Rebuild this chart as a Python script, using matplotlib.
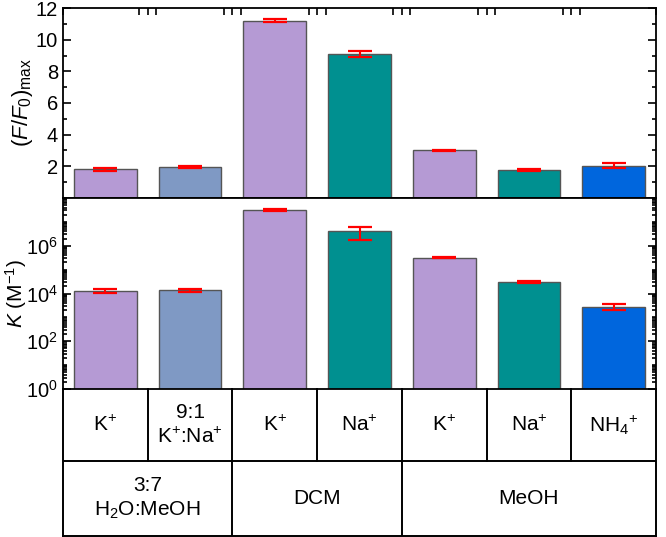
import numpy as np
import matplotlib
matplotlib.use("Agg")
import matplotlib.pyplot as plt
from matplotlib.ticker import LogLocator, NullFormatter, MultipleLocator, FixedLocator

plt.rcParams['font.family'] = ['Liberation Sans', 'DejaVu Sans']
plt.rcParams['mathtext.fontset'] = 'custom'
plt.rcParams['mathtext.rm'] = 'Liberation Sans'
plt.rcParams['mathtext.it'] = 'Liberation Sans:italic'

# --------------------
# Data
# --------------------
ions = ['K$^{+}$', '9:1\nK$^{+}$:Na$^{+}$', 'K$^{+}$', 'Na$^{+}$', 'K$^{+}$', 'Na$^{+}$', 'NH$_4$$^{+}$']
solvents = ['3:7\nH$_2$O:MeOH', 'DCM', 'MeOH']
solvent_span = [2, 2, 3]

f_ratio = [1.8, 1.95, 11.2, 9.1, 3.0, 1.78, 2.05]
f_err = [0.08, 0.08, 0.08, 0.2, 0.05, 0.05, 0.18]

k_val = [1.33e4, 1.4e4, 3.2e7, 4.1e6, 3.2e5, 3.0e4, 2.7e3]
k_err_lo = [0.25e4, 0.2e4, 0.4e7, 2.3e6, 0.2e5, 0.2e4, 0.6e3]
k_err_hi = [0.25e4, 0.2e4, 0.4e7, 2.2e6, 0.2e5, 0.2e4, 0.8e3]

lav = '#B59AD4'
steel = '#7F99C4'
teal = '#009090'
blue = '#0066DD'
colors = [lav, steel, lav, teal, lav, teal, blue]

x = np.arange(len(ions))
W, H = 666, 537
fig = plt.figure(figsize=(W / 100, H / 100), dpi=100)

def pos(l, t, r, b):
    return [l / W, 1 - b / H, (r - l) / W, (b - t) / H]

ax1 = fig.add_axes(pos(63, 8, 656, 198))
ax2 = fig.add_axes(pos(63, 198, 656, 389))
ax3 = fig.add_axes(pos(63, 389, 656, 536))

bar_kw = dict(width=0.74, edgecolor='#555555', linewidth=1.0, zorder=2)
err_kw = dict(ecolor='red', elinewidth=1.5, capsize=8.5, capthick=1.6)

ax1.bar(x, f_ratio, color=colors, yerr=f_err, error_kw=err_kw, **bar_kw)
ax1.set_xlim(-0.5, 6.5)
ax1.set_ylim(0, 12)
ax1.yaxis.set_major_locator(FixedLocator([2, 4, 6, 8, 10, 12]))
ax1.yaxis.set_minor_locator(MultipleLocator(1))
ax1.set_ylabel(r'$(\mathit{F/F_0})_{\mathrm{max}}$', fontsize=16, va='center')
ax1.yaxis.set_label_coords(-0.068, 0.5)
bounds = np.arange(-0.5, 7.0, 1.0)
ax1.xaxis.set_major_locator(FixedLocator(bounds))
ax1.xaxis.set_minor_locator(FixedLocator(np.concatenate([bounds[1:-1] - 0.1, bounds[1:-1] + 0.1])))
ax1.tick_params(axis='x', which='both', bottom=False, top=True, labelbottom=False, direction='in')
ax1.tick_params(axis='x', which='major', length=5, width=1.2)
ax1.tick_params(axis='x', which='minor', length=5, width=1.2)

ax2.bar(x, k_val, color=colors, yerr=[k_err_lo, k_err_hi], error_kw=err_kw, **bar_kw)
ax2.set_yscale('log')
ax2.set_xlim(-0.5, 6.5)
ax2.set_ylim(1, 1e8)
ax2.yaxis.set_major_locator(FixedLocator([1, 1e2, 1e4, 1e6]))
ax2.yaxis.set_minor_locator(LogLocator(base=10, subs=(1.0, 2, 3, 4, 5, 6, 7, 8, 9), numticks=20))
ax2.yaxis.set_minor_formatter(NullFormatter())
ax2.set_ylabel(r'$\mathit{K}$ (M$^{\mathrm{-1}}$)', fontsize=15, va='center')
ax2.yaxis.set_label_coords(-0.079, 0.5)
ax2.tick_params(axis='x', which='both', bottom=False, top=False, labelbottom=False)

for ax in (ax1, ax2):
    ax.tick_params(axis='y', which='both', left=True, right=True, direction='in', labelsize=14.5, width=1.2)
    ax.tick_params(axis='y', which='major', length=6)
    ax.tick_params(axis='y', which='minor', length=3)
    for s in ax.spines.values():
        s.set_linewidth(1.3)

# --------------------
# Category table under the bars
# --------------------
ax3.set_xlim(-0.5, 6.5)
ax3.set_ylim(0, 2.04)
ax3.axis('off')
lw = 1.4
ax3.plot([-0.5, 6.5], [0, 0], color='black', lw=lw, clip_on=False)
ax3.plot([-0.5, -0.5], [0, 2.04], color='black', lw=lw, clip_on=False)
ax3.plot([6.5, 6.5], [0, 2.04], color='black', lw=lw, clip_on=False)
ax3.plot([-0.5, 6.5], [1.04, 1.04], color='black', lw=lw)
for b in bounds[1:-1]:
    ax3.plot([b, b], [1.04, 2.04], color='black', lw=lw, clip_on=False)
for i, lab in enumerate(ions):
    ax3.text(i, 1.54, lab, ha='center', va='center', fontsize=15, linespacing=1.3)
start = -0.5
for lab, span in zip(solvents, solvent_span):
    end = start + span
    if end < 6.5:
        ax3.plot([end, end], [0, 1.04], color='black', lw=lw)
    ax3.text((start + end) / 2, 0.52, lab, ha='center', va='center', fontsize=15, linespacing=1.3)
    start = end

fig.savefig('out.png', dpi=100)
